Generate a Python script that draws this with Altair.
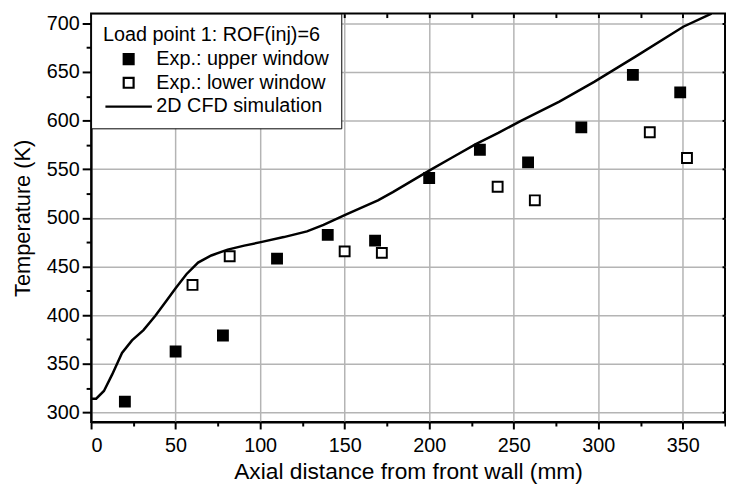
import altair as alt
import pandas as pd

# ---- data ----
S_UP = "Exp.: upper window"
S_LOW = "Exp.: lower window"
S_CFD = "2D CFD simulation"
SERIES = [S_UP, S_LOW, S_CFD]

up_x = [20, 50, 78, 110, 140, 168, 200, 230, 258.5, 290, 320.5, 348.5]
up_t = [311, 362.5, 379, 458, 482.5, 476.5, 541, 570, 557, 593, 647, 629]

low_x = [60, 82, 150, 172, 240.5, 262.5, 330.5, 352.5]
low_t = [431, 460.5, 465.5, 464, 532, 518, 588, 561.5]

cfd_x = [0, 3, 7.6, 12.5, 18.3, 24.2, 31, 37.9, 44.7, 50, 56.4, 63.3, 71.1,
         80.8, 90.6, 100.4, 114, 127.7, 137.5, 150, 159, 169.7, 178.5, 190,
         200, 213.6, 227.3, 240.9, 253.7, 277, 297.6, 323, 350.3, 367]
cfd_t = [314, 314, 322, 339, 361, 374, 384.5, 399, 415, 427.5, 442, 454,
         461.3, 467.3, 471.4, 475, 480.2, 486, 492.7, 502.8, 509.6, 518,
         526.5, 538.3, 548.5, 562, 575.6, 587.3, 599.2, 619.5, 639.8, 666.8,
         696.5, 710]

legend_title = "Load point 1: ROF(inj)=6"
x_title = "Axial distance from front wall (mm)"
y_title = "Temperature (K)"
x_ticks = list(range(0, 376, 25))
y_ticks = list(range(300, 701, 25))
y_major = list(range(300, 701, 50))

pts = pd.DataFrame({
    "x": up_x + low_x,
    "T": up_t + low_t,
    "series": [S_UP] * len(up_x) + [S_LOW] * len(low_x),
})
cfd = pd.DataFrame({"x": cfd_x, "T": cfd_t})

FONT = "Liberation Sans"
xscale = alt.Scale(domain=[0, 375], nice=False, zero=False)
yscale = alt.Scale(domain=[290, 710], nice=False, zero=False)

major_x = "datum.value % 50 === 0"

x_bottom = alt.Axis(
    orient="bottom", values=x_ticks,
    labelExpr="datum.value % 50 === 0 ? datum.label : ''",
    tickSize={"condition": {"test": major_x, "value": 7}, "value": 4},
    grid=True, gridColor="#b4b4b4", gridWidth=1.5,
    gridOpacity={"condition": {"test": major_x, "value": 1}, "value": 0},
    domainColor="black", domainWidth=2, tickColor="black", tickWidth=2,
    labelFontSize=20, labelPadding=7, title=x_title, titleFontSize=23,
    titlePadding=5,
)
y_left = alt.Axis(
    orient="left", values=y_ticks,
    labelExpr="datum.value % 50 === 0 ? datum.label : ''",
    tickSize={"condition": {"test": major_x, "value": 9}, "value": 5},
    grid=True, gridColor="#b4b4b4", gridWidth=1.5,
    gridOpacity={"condition": {"test": major_x, "value": 1}, "value": 0},
    domainColor="black", domainWidth=2, tickColor="black", tickWidth=2,
    labelFontSize=20, labelPadding=3, title=y_title, titleFontSize=22,
    titlePadding=12,
)
x_top = alt.Axis(
    orient="top", values=x_ticks, labels=False, domain=False, grid=False,
    tickSize=4, offset=-4, tickColor="black", tickWidth=2, title=None,
)
y_right = alt.Axis(
    orient="right", values=y_major, labels=False, domain=False, grid=False,
    tickSize=3, offset=-3, tickColor="black", tickWidth=2, title=None,
)

leg = alt.Legend(
    title=legend_title, orient="top-left", offset=0, padding=12,
    fillColor="white", strokeColor="black",
    titleFontSize=20, labelFontSize=20, titleFont=FONT, labelFont=FONT,
    titleFontWeight="normal", titleColor="black", labelColor="black",
    labelLimit=0, titleLimit=0, symbolSize=100,
    symbolStrokeWidth=2.2, symbolOffset=16, labelOffset=18,
    rowPadding=4, titlePadding=4,
)

line = alt.Chart(cfd).mark_line(color="black", strokeWidth=2.5, clip=True).encode(
    x=alt.X("x:Q", scale=xscale, axis=x_bottom),
    y=alt.Y("T:Q", scale=yscale, axis=y_left),
)

points = alt.Chart(pts).mark_point(strokeWidth=2, opacity=1, size=100,
                                    fillOpacity=1, clip=True).encode(
    x=alt.X("x:Q", scale=xscale, axis=x_top),
    y=alt.Y("T:Q", scale=yscale, axis=y_right),
    shape=alt.Shape("series:N", scale=alt.Scale(domain=SERIES, range=["square", "square", "M-4.7,0L4.7,0"]), legend=leg),
    fill=alt.Fill("series:N", scale=alt.Scale(domain=SERIES, range=["black", "white", "black"]), legend=leg),
    stroke=alt.Stroke("series:N", scale=alt.Scale(domain=SERIES, range=["black", "black", "black"]), legend=leg),
)

chart = (
    alt.layer(line, points)
    .resolve_axis(x="independent", y="independent")
    .properties(
        width=641, height=413,
        padding={"left": 84, "top": 3, "right": 1, "bottom": 62},
        autosize=alt.AutoSizeParams(type="none"),
    )
    .configure_axis(labelFont=FONT, titleFont=FONT, labelColor="black",
                    titleColor="black", titleFontWeight="normal")
    .configure_view(stroke="black", strokeWidth=2)
)

chart.save("out.html", embed_options={"renderer": "svg", "actions": False})
